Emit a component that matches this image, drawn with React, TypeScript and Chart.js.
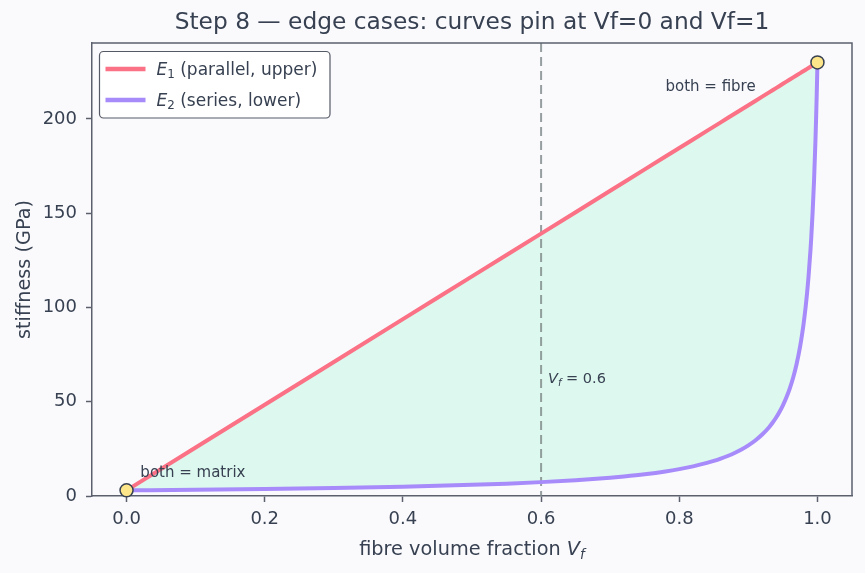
import React, { useEffect, useRef } from "react";
import { Chart, registerables } from "chart.js";

Chart.register(...registerables);

// ---- data ----
const vf = [0, 0.1, 0.2, 0.3, 0.4, 0.45, 0.5, 0.55, 0.6, 0.65, 0.7, 0.72, 0.75, 0.78, 0.8, 0.82, 0.84, 0.85, 0.86, 0.87, 0.88, 0.89, 0.9, 0.91, 0.92, 0.93, 0.935, 0.94, 0.945, 0.95, 0.955, 0.96, 0.965, 0.97, 0.975, 0.978, 0.98, 0.983, 0.985, 0.987, 0.99, 0.991, 0.993, 0.995, 0.997, 0.998, 0.9985, 0.999, 0.9995, 1.0];
const e1Parallel = [3.0, 25.7, 48.4, 71.1, 93.8, 105.15, 116.5, 127.85, 139.2, 150.55, 161.9, 166.44, 173.25, 180.06, 184.6, 189.14, 193.68, 195.95, 198.22, 200.49, 202.76, 205.03, 207.3, 209.57, 211.84, 214.11, 215.25, 216.38, 217.52, 218.65, 219.79, 220.92, 222.06, 223.19, 224.33, 225.01, 225.46, 226.14, 226.6, 227.05, 227.73, 227.96, 228.41, 228.87, 229.32, 229.55, 229.66, 229.77, 229.89, 230.0];
const e2Series = [3.0, 3.33, 3.74, 4.26, 4.96, 5.4, 5.92, 6.56, 7.36, 8.37, 9.7, 10.37, 11.55, 13.03, 14.26, 15.73, 17.55, 18.62, 19.84, 21.22, 22.8, 24.67, 26.85, 29.45, 32.6, 36.5, 38.86, 41.5, 44.56, 48.1, 52.2, 57.1, 63.0, 70.3, 79.5, 86.3, 91.5, 100.6, 107.7, 115.95, 130.9, 136.8, 150.4, 166.7, 187.4, 199.8, 206.6, 213.8, 221.6, 230.0];
const endpointVf = [0, 1];
const endpointE = [3, 230];
const xTicks = [0, 0.2, 0.4, 0.6, 0.8, 1.0];
const yTicks = [0, 50, 100, 150, 200];
const refLineVf = 0.6;
const refLabelPos = [0.61, 60];
const noteTexts = ["both = matrix", "both = fibre"];
const noteX = [0.02, 0.78];
const noteY = [10, 215];
const titleText = "Step 8 — edge cases: curves pin at Vf=0 and Vf=1";
const legendLabels = [" (parallel, upper)", " (series, lower)"];
const legendSubs = ["1", "2"];

const FONT = "'DejaVu Sans', sans-serif";
const TEXT = "#374151";
const SPINE = "#5b606c";
const RED = "#fb7185";
const PURPLE = "#a78bfa";

type Part = { t: string; italic?: boolean; sub?: boolean };

function partFont(p: Part, size: number) {
  const s = p.sub ? size * 0.7 : size;
  return `${p.italic ? "italic " : ""}${s}px ${FONT}`;
}
function richWidth(ctx: CanvasRenderingContext2D, parts: Part[], size: number) {
  let w = 0;
  for (const p of parts) {
    ctx.font = partFont(p, size);
    w += ctx.measureText(p.t).width;
  }
  return w;
}
function drawRich(ctx: CanvasRenderingContext2D, parts: Part[], x: number, y: number, size: number, align: "left" | "center") {
  let cx = align === "center" ? x - richWidth(ctx, parts, size) / 2 : x;
  ctx.textAlign = "left";
  ctx.textBaseline = "alphabetic";
  for (const p of parts) {
    ctx.font = partFont(p, size);
    ctx.fillText(p.t, cx, p.sub ? y + size * 0.2 : y);
    cx += ctx.measureText(p.t).width;
  }
}

const decor = {
  id: "decor",
  beforeDraw(chart: any) {
    const { ctx, width, height } = chart;
    ctx.save();
    ctx.fillStyle = "#fafafd";
    ctx.fillRect(0, 0, width, height);
    ctx.restore();
  },
  beforeDatasetsDraw(chart: any) {
    const { ctx, chartArea } = chart;
    const xs = chart.scales.x;
    const px = xs.getPixelForValue(refLineVf);
    ctx.save();
    ctx.strokeStyle = "rgba(125,135,135,0.8)";
    ctx.lineWidth = 2;
    ctx.setLineDash([9, 5]);
    ctx.beginPath();
    ctx.moveTo(px, chartArea.top);
    ctx.lineTo(px, chartArea.bottom);
    ctx.stroke();
    ctx.restore();
  },
  afterDraw(chart: any) {
    const { ctx, chartArea } = chart;
    const xs = chart.scales.x;
    const ys = chart.scales.y;
    ctx.save();
    // top & right spines
    ctx.strokeStyle = SPINE;
    ctx.lineWidth = 1.5;
    ctx.beginPath();
    ctx.moveTo(chartArea.left, chartArea.top);
    ctx.lineTo(chartArea.right, chartArea.top);
    ctx.lineTo(chartArea.right, chartArea.bottom);
    ctx.stroke();

    ctx.fillStyle = TEXT;
    // title
    ctx.font = `23.3px ${FONT}`;
    ctx.textAlign = "center";
    ctx.textBaseline = "middle";
    ctx.fillText(titleText, (chartArea.left + chartArea.right) / 2, 23);

    // x axis title
    drawRich(ctx, [{ t: "fibre volume fraction " }, { t: "V", italic: true }, { t: "f", italic: true, sub: true }],
      (chartArea.left + chartArea.right) / 2, 555, 19.3, "center");
    // y axis title
    ctx.save();
    ctx.translate(30, (chartArea.top + chartArea.bottom) / 2);
    ctx.rotate(-Math.PI / 2);
    ctx.font = `19.3px ${FONT}`;
    ctx.textAlign = "center";
    ctx.textBaseline = "alphabetic";
    ctx.fillText("stiffness (GPa)", 0, 0);
    ctx.restore();

    // annotations
    ctx.fillStyle = TEXT;
    for (let i = 0; i < noteTexts.length; i++) {
      ctx.font = `15px ${FONT}`;
      ctx.textAlign = "left";
      ctx.textBaseline = "alphabetic";
      ctx.fillText(noteTexts[i], xs.getPixelForValue(noteX[i]), ys.getPixelForValue(noteY[i]));
    }
    drawRich(ctx, [{ t: "V", italic: true }, { t: "f", italic: true, sub: true }, { t: " = 0.6" }],
      xs.getPixelForValue(refLabelPos[0]), ys.getPixelForValue(refLabelPos[1]), 14.5, "left");

    // legend
    const lx = chartArea.left + 7.5;
    const ly = chartArea.top + 8.5;
    const lw = 230.5;
    const lh = 66.5;
    ctx.fillStyle = "rgba(255,255,255,0.85)";
    ctx.strokeStyle = "#555a66";
    ctx.lineWidth = 1.2;
    ctx.beginPath();
    ctx.roundRect(lx, ly, lw, lh, 4);
    ctx.fill();
    ctx.stroke();
    const colors = [RED, PURPLE];
    for (let i = 0; i < 2; i++) {
      const ry = ly + 17.5 + i * 31;
      ctx.strokeStyle = colors[i];
      ctx.lineWidth = 4.5;
      ctx.beginPath();
      ctx.moveTo(lx + 6, ry);
      ctx.lineTo(lx + 46, ry);
      ctx.stroke();
      ctx.fillStyle = TEXT;
      drawRich(ctx, [{ t: "E", italic: true }, { t: legendSubs[i], sub: true }, { t: legendLabels[i] }],
        lx + 57, ry + 6, 17, "left");
    }
    ctx.restore();
  },
};

export default function App() {
  const ref = useRef<HTMLCanvasElement | null>(null);
  useEffect(() => {
    if (!ref.current) return;
    const chart = new Chart(ref.current, {
      type: "line",
      data: {
        datasets: [
          {
            label: "E1 (parallel, upper)",
            data: vf.map((x, i) => ({ x, y: e1Parallel[i] })),
            borderColor: RED,
            borderWidth: 4,
            pointRadius: 0,
            tension: 0,
            fill: "+1",
            backgroundColor: "rgba(167,243,208,0.35)",
            order: 2,
          },
          {
            label: "E2 (series, lower)",
            data: vf.map((x, i) => ({ x, y: e2Series[i] })),
            borderColor: PURPLE,
            borderWidth: 4,
            pointRadius: 0,
            cubicInterpolationMode: "monotone",
            fill: false,
            order: 1,
          },
          {
            label: "endpoints",
            data: endpointVf.map((x, i) => ({ x, y: endpointE[i] })),
            showLine: false,
            pointRadius: 6.5,
            pointBackgroundColor: "#fde68a",
            pointBorderColor: "#374151",
            pointBorderWidth: 1.5,
            clip: false as any,
            order: 0,
          },
        ],
      },
      options: {
        responsive: false,
        animation: false,
        layout: { padding: { top: 43, right: 13, left: 0, bottom: 0 } },
        plugins: {
          legend: { display: false },
          tooltip: { enabled: false },
          title: { display: false },
          filler: { drawTime: "beforeDatasetsDraw" } as any,
        },
        scales: {
          x: {
            type: "linear",
            min: -0.05,
            max: 1.05,
            afterBuildTicks: (s: any) => { s.ticks = xTicks.map((v) => ({ value: v })); },
            afterFit: (s: any) => { s.height = 77; },
            ticks: {
              callback: (v: any) => Number(v).toFixed(1),
              font: { family: FONT, size: 18 },
              color: TEXT,
              padding: 7,
              maxRotation: 0,
              autoSkip: false,
            },
            grid: { drawOnChartArea: false, drawTicks: true, tickLength: 6, tickColor: SPINE, tickWidth: 1.5 },
            border: { color: SPINE, width: 1.5 },
          },
          y: {
            type: "linear",
            min: 0,
            max: 240.3,
            afterBuildTicks: (s: any) => { s.ticks = yTicks.map((v) => ({ value: v })); },
            afterFit: (s: any) => { s.width = 92; },
            ticks: {
              callback: (v: any) => String(v),
              font: { family: FONT, size: 18 },
              color: TEXT,
              padding: 9,
              autoSkip: false,
            },
            grid: { drawOnChartArea: false, drawTicks: true, tickLength: 6, tickColor: SPINE, tickWidth: 1.5 },
            border: { color: SPINE, width: 1.5 },
          },
        },
      },
      plugins: [decor],
    });
    return () => chart.destroy();
  }, []);
  return (
    <canvas
      ref={ref}
      width={865}
      height={573}
      style={{ position: "absolute", left: 0, top: 0, width: 865, height: 573 }}
    />
  );
}
